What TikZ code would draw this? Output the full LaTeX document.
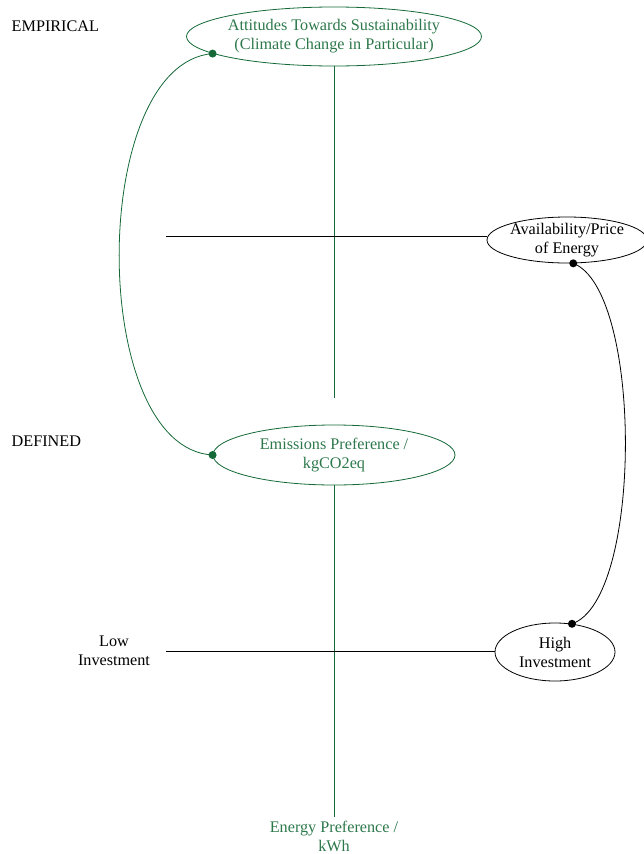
\documentclass[tikz,border=0pt]{standalone}
\usepackage{fontspec}
\setmainfont{Liberation Serif}
\usetikzlibrary{shapes.geometric,positioning}
\definecolor{leafgreen}{RGB}{20,105,55}
\definecolor{leaftext}{RGB}{45,120,75}

\begin{document}
\begin{tikzpicture}[x=1pt,y=-1pt,line width=0.8pt,
      every node/.style={font=\fontsize{16.2}{19}\selectfont},
      oval/.style={draw,ellipse,align=center,inner xsep=-5pt,inner ysep=-3pt},
      greenoval/.style={oval,draw=leafgreen,text=leaftext},
      lbl/.style={align=center},
      dot/.style={circle,fill,inner sep=0pt,minimum size=8pt}]
      \useasboundingbox (0,0) rectangle (643,854);
      % level labels
      \node[anchor=west] (emp) at (8,26) {EMPIRICAL};
      \node[anchor=west] (def) at (8,441) {DEFINED};
      % ovals
      \node[greenoval,minimum width=295pt,minimum height=59pt] (att) at (334,36.5)
        {Attitudes Towards Sustainability\\(Climate Change in Particular)};
      \node[oval,minimum width=160pt,minimum height=46pt] (avail) at (567,240)
        {Availability/Price\\of Energy};
      \node[greenoval,minimum width=242pt,minimum height=60pt] (emis) at (334,455)
        {Emissions Preference /\\kgCO2eq};
      \node[oval,minimum width=120pt,minimum height=58pt] (high) at (555,652)
        {High\\Investment};
      \node[lbl] (low) at (114,651) {Low\\Investment};
      \node[lbl,text=leaftext] (energy) at (334,836) {Energy Preference /\\kWh};
      % axes
      \coordinate (attend) at (334,398);
      \coordinate (availstart) at (166,236);
      \coordinate (lowstart) at (166,651);
      \draw[leafgreen] (att.south) -- (attend);
      \draw[leafgreen] (emis.south) -- (energy.north);
      \draw (availstart) -- (availstart -| avail.west);
      \draw (lowstart) -- (lowstart -| high.west);
      % links
      \draw[leafgreen] (att.188) .. controls (88,64) and (88,448) .. (emis.west);
      \draw (avail.285) .. controls (643,290) and (643,600) .. (high.59);
      \node[dot,leafgreen] (d1) at (att.188) {};
      \node[dot,leafgreen] (d2) at (emis.west) {};
      \node[dot] (d3) at (avail.285) {};
      \node[dot] (d4) at (high.59) {};
\end{tikzpicture}
\end{document}
